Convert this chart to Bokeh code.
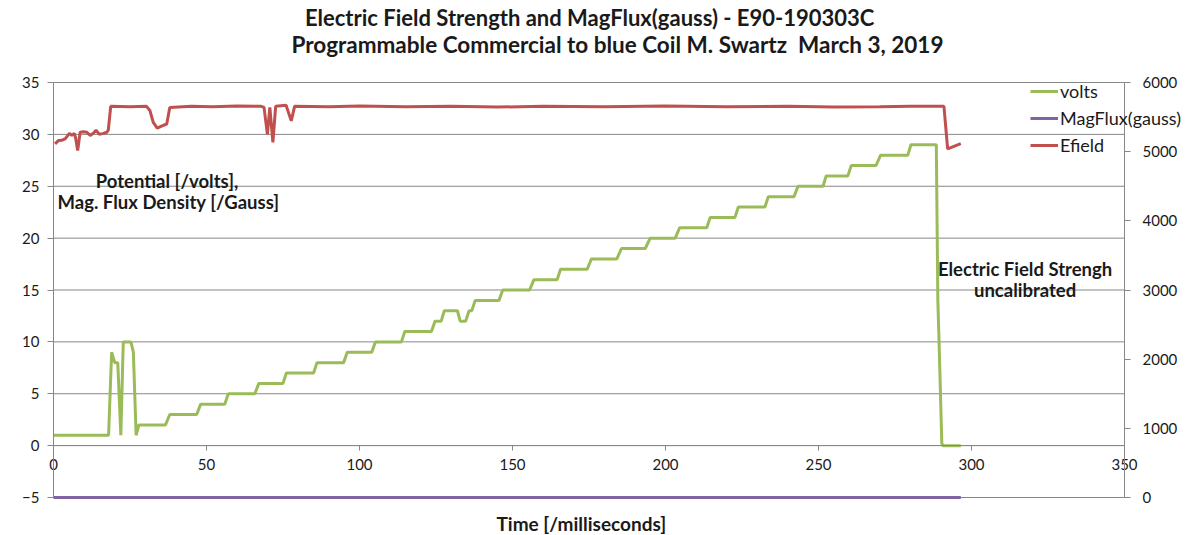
from bokeh.plotting import figure
from bokeh.models import (Range1d, LinearAxis, Label, Legend, LegendItem,
                          FixedTicker, Grid)
from bokeh.embed import file_html
from bokeh.resources import INLINE

# ---- data -------------------------------------------------------------
x_ticks = [0, 50, 100, 150, 200, 250, 300, 350]
left_ticks = [-5, 0, 5, 10, 15, 20, 25, 30, 35]
right_ticks = [0, 1000, 2000, 3000, 4000, 5000, 6000]

# applied potential (volts), left axis
volts_t = [0, 18, 19, 20, 21, 22, 22.8, 25.3, 26.1, 27, 27.9, 36.6, 38, 46.8,
           48.1, 56, 57.1, 65.8, 67.1, 75, 76.1, 85, 86.1, 94.8, 96, 104,
           105.2, 113.7, 114.8, 123.5, 124.7, 126.7, 127.7, 132, 132.9, 134.7,
           135.8, 136.7, 137.8, 145.6, 146.8, 155.6, 157, 164.6, 165.7, 174.4,
           175.8, 184.1, 185.6, 193.4, 195, 203.2, 204.6, 213.5, 214.6, 222.7,
           223.8, 232.5, 233.6, 242, 243.3, 251.5, 252.5, 259.6, 260.7, 268.8,
           270.3, 279.2, 280.2, 288.5, 289.0, 289.4, 290.3, 290.7, 296.5]
volts = [1, 1, 9, 8, 8, 1, 10, 10, 9, 1, 2, 2, 3, 3,
         4, 4, 5, 5, 6, 6, 7, 7, 8, 8, 9, 9,
         10, 10, 11, 11, 12, 12, 13, 13, 12, 12,
         13, 13, 14, 14, 15, 15, 16, 16, 17, 17,
         18, 18, 19, 19, 20, 20, 21, 21, 22, 22,
         23, 23, 24, 24, 25, 25, 26, 26, 27, 27,
         28, 28, 29, 29, 14, 10, 0.2, 0, 0]

# magnetic flux density (gauss), right axis
mag_t = [0, 50, 100, 150, 200, 250, 296.5]
magflux = [0, 0, 0, 0, 0, 0, 0]

# electric field strength (uncalibrated), right axis
efield_t = [0.5, 1.6, 2.7, 3.8, 5.2, 6.0, 6.8, 7.2, 7.9, 8.7, 9.8, 10.9, 12.0,
            13.0, 13.9, 15.0, 16.3, 17.4, 17.9, 18.7, 25, 30.4, 31.5, 32.6,
            33.9, 35.3, 37.0, 38.0, 45, 52, 60, 67.9, 68.8, 69.9, 70.7, 71.7,
            72.6, 76.0, 77.7, 78.8, 90, 100, 115, 130, 145, 160, 180, 200,
            220, 240, 255, 270, 280, 291.0, 292.2, 296.5]
efield = [5112, 5160, 5165, 5184, 5265, 5235, 5265, 5205, 5015, 5280, 5288,
          5280, 5235, 5265, 5310, 5250, 5265, 5280, 5310, 5655, 5650, 5655,
          5595, 5424, 5340, 5370, 5400, 5640, 5655, 5650, 5660, 5655, 5640,
          5250, 5640, 5134, 5655, 5670, 5445, 5655, 5650, 5660, 5648, 5655,
          5645, 5655, 5650, 5660, 5650, 5655, 5645, 5650, 5655, 5655, 5040,
          5115]

# ---- figure -------------------------------------------------------------
# The frame covers the whole canvas; axes sit at fixed data positions so
# that the titles, legend and tick labels all live inside it.
FONT = "Lato"
GRID = "#878787"
TXT = "#1a1a1a"
W, H = 1201, 535
PX_L, PX_R, PX_T, PX_B = 53, 1124, 82, 497   # where the chart body sits

xs = 350 / (PX_R - PX_L)
ys = 40 / (PX_B - PX_T)
rs = 6000 / (PX_B - PX_T)

p = figure(width=W, height=H, output_backend="svg", toolbar_location=None,
           x_range=Range1d(-PX_L * xs, 350 + (W - PX_R) * xs),
           y_range=Range1d(-5 - (H - PX_B) * ys, 35 + PX_T * ys),
           x_axis_location=None, y_axis_location=None,
           min_border=0, min_border_left=0, min_border_right=0,
           min_border_top=0, min_border_bottom=0)
p.outline_line_color = None
p.background_fill_color = "white"
p.border_fill_color = "white"
p.extra_y_ranges = {"right": Range1d(-(H - PX_B) * rs, 6000 + PX_T * rs)}
for g in p.select(type=Grid):
    g.visible = False

# horizontal gridlines at the left-axis ticks, spanning the chart body
p.segment(x0=[0] * len(left_ticks), x1=[350] * len(left_ticks),
          y0=left_ticks, y1=left_ticks, line_color=GRID, line_width=1)

def style_axis(ax):
    ax.axis_line_color = GRID
    ax.major_tick_line_color = GRID
    ax.minor_tick_line_color = None
    ax.major_tick_in = 0
    ax.major_tick_out = 6
    ax.major_label_text_font = FONT
    ax.major_label_text_font_size = "15px"
    ax.major_label_text_color = TXT

xaxis = LinearAxis(fixed_location=0, bounds=(0, 350),
                   ticker=FixedTicker(ticks=x_ticks))
style_axis(xaxis)
xaxis.major_tick_out = 5
xaxis.major_label_standoff = 8
p.add_layout(xaxis, "below")

yaxis = LinearAxis(fixed_location=0, bounds=(-5, 35),
                   ticker=FixedTicker(ticks=left_ticks))
style_axis(yaxis)
yaxis.major_label_standoff = 8
p.add_layout(yaxis, "left")

raxis = LinearAxis(fixed_location=350, bounds=(0, 6000), y_range_name="right",
                   ticker=FixedTicker(ticks=right_ticks))
style_axis(raxis)
raxis.major_label_standoff = 12
p.add_layout(raxis, "right")

r_v = p.line(volts_t, volts, line_color="#9BBB59", line_width=3)
r_m = p.line(mag_t, magflux, line_color="#8064A2", line_width=3,
             y_range_name="right")
r_e = p.line(efield_t, efield, line_color="#C0504D", line_width=3,
             y_range_name="right")

legend = Legend(items=[LegendItem(label="volts", renderers=[r_v]),
                       LegendItem(label="MagFlux(gauss)", renderers=[r_m]),
                       LegendItem(label="Efield", renderers=[r_e])],
                location=(1030, H - 156), orientation="vertical",
                glyph_width=28, glyph_height=20, label_height=20,
                label_standoff=2, spacing=5, padding=0, margin=0,
                border_line_alpha=0, background_fill_alpha=0,
                label_text_font=FONT, label_text_font_size="18px",
                label_text_color=TXT)
p.add_layout(legend)

def note(x, y, text, size="18.5px"):
    p.add_layout(Label(x=x, y=y, text=text, text_align="center",
                       text_baseline="middle", text_font=FONT,
                       text_font_size=size, text_color=TXT,
                       text_font_style="bold"))

note(175.2, 41.25, "Electric Field Strength and MagFlux(gauss) - E90-190303C", "22px")
note(184.3, 38.7, "Programmable Commercial to blue Coil M. Swartz\u00a0\u00a0March 3, 2019", "22.5px")
note(37.1, 25.5, "Potential [/volts],")
note(37.6, 23.5, "Mag. Flux Density [/Gauss]")
note(317.5, 17.03, "Electric Field Strengh")
note(317.5, 15.0, "uncalibrated")
note(172.5, -7.52, "Time [/milliseconds]", "19px")

open("out.html", "w").write(file_html(p, INLINE))
